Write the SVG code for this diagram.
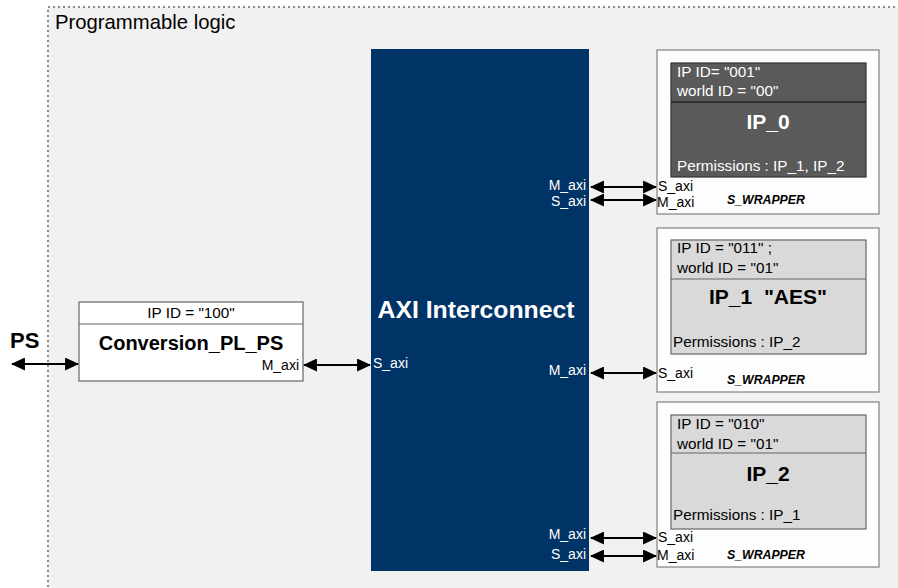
<svg xmlns="http://www.w3.org/2000/svg" width="898" height="588" viewBox="0 0 898 588">
<style>
text{font-family:"Liberation Sans",Arial,sans-serif;}
.port{font-size:14px;fill:#000;}
.portw{font-size:14px;fill:#fff;}
.wrap{fill:#fdfdfd;stroke:#808080;stroke-width:1.2;}
.wl{font-size:12.3px;font-weight:bold;font-style:italic;}
.lt{font-size:15.3px;}
.title{font-size:21px;font-weight:bold;text-anchor:middle;}
.ln{stroke:#000;stroke-width:2;fill:none;marker-start:url(#ah);marker-end:url(#ah);}
</style>
<defs>
<marker id="ah" viewBox="0 0 13 12" refX="12" refY="6" markerWidth="7" markerHeight="6.5" orient="auto-start-reverse" markerUnits="strokeWidth">
<path d="M0,0 L13,6 L0,12 z" fill="#000"/>
</marker>
</defs>
<rect width="898" height="588" fill="#fff"/>
<g id="pl">
<rect x="48" y="7" width="860" height="600" fill="#f1f1f1" stroke="#8a8a8a" stroke-width="2" stroke-dasharray="2 3"/>
<text x="55" y="29" font-size="20.3">Programmable logic</text>
</g>
<g id="axi">
<rect x="371" y="49" width="218" height="522" fill="#003366"/>
<text x="476" y="318" font-size="24.8" font-weight="bold" fill="#fff" text-anchor="middle">AXI Interconnect</text>
<text class="portw" x="586" y="190" text-anchor="end">M_axi</text>
<text class="portw" x="586" y="206" text-anchor="end">S_axi</text>
<text class="portw" x="586" y="375" text-anchor="end">M_axi</text>
<text class="portw" x="586" y="539" text-anchor="end">M_axi</text>
<text class="portw" x="586" y="559" text-anchor="end">S_axi</text>
<text class="portw" x="373" y="368">S_axi</text>
</g>
<g id="conv">
<rect x="79" y="302" width="224" height="79" fill="#fff" stroke="#666" stroke-width="1.2"/>
<line x1="79" y1="324" x2="303" y2="324" stroke="#666" stroke-width="1.2"/>
<text x="191" y="318" font-size="15.3" text-anchor="middle">IP ID = "100"</text>
<text x="191" y="350" font-size="20" font-weight="bold" text-anchor="middle">Conversion_PL_PS</text>
<text class="port" x="299" y="370" text-anchor="end">M_axi</text>
</g>
<g id="ps">
<text x="10" y="348" font-size="22" font-weight="bold">PS</text>
</g>
<g id="ip0">
<rect class="wrap" x="657" y="50" width="222" height="164"/>
<rect x="671" y="63" width="195" height="114" fill="#5a5a5a" stroke="#333" stroke-width="1.2"/>
<line x1="671" y1="102" x2="866" y2="102" stroke="#222" stroke-width="1.5"/>
<text class="lt" x="677" y="77" fill="#fff">IP ID= "001"</text>
<text class="lt" x="677" y="96" fill="#fff">world ID = "00"</text>
<text class="title" x="768" y="129" fill="#fff">IP_0</text>
<text class="lt" x="677" y="171" fill="#fff">Permissions : IP_1, IP_2</text>
<text class="port" x="658" y="191">S_axi</text>
<text class="port" x="657" y="207">M_axi</text>
<text class="wl" x="727" y="204">S_WRAPPER</text>
</g>
<g id="ip1">
<rect class="wrap" x="657" y="228" width="222" height="164"/>
<rect x="671" y="240" width="195" height="114" fill="#d9d9d9" stroke="#666" stroke-width="1.2"/>
<line x1="671" y1="279" x2="866" y2="279" stroke="#666" stroke-width="1.2"/>
<text class="lt" x="677" y="253">IP ID = "011" ;</text>
<text class="lt" x="677" y="273">world ID = "01"</text>
<text class="title" x="768" y="304" xml:space="preserve">IP_1  "AES"</text>
<text class="lt" x="673" y="347">Permissions : IP_2</text>
<text class="port" x="658" y="378">S_axi</text>
<text class="wl" x="727" y="384">S_WRAPPER</text>
</g>
<g id="ip2">
<rect class="wrap" x="657" y="402" width="222" height="165"/>
<rect x="671" y="415" width="195" height="114" fill="#d9d9d9" stroke="#666" stroke-width="1.2"/>
<line x1="671" y1="453" x2="866" y2="453" stroke="#666" stroke-width="1.2"/>
<text class="lt" x="677" y="429">IP ID = "010"</text>
<text class="lt" x="677" y="449">world ID = "01"</text>
<text class="title" x="768" y="481">IP_2</text>
<text class="lt" x="673" y="520">Permissions : IP_1</text>
<text class="port" x="658" y="542">S_axi</text>
<text class="port" x="657" y="560">M_axi</text>
<text class="wl" x="727" y="559">S_WRAPPER</text>
</g>
<g id="connectors">
<line class="ln" x1="12" y1="364" x2="78" y2="364"/>
<line class="ln" x1="304" y1="365" x2="370" y2="365"/>
<line class="ln" x1="591" y1="187" x2="656" y2="187"/>
<line class="ln" x1="591" y1="200" x2="656" y2="200"/>
<line class="ln" x1="591" y1="373" x2="656" y2="373"/>
<line class="ln" x1="591" y1="538" x2="656" y2="538"/>
<line class="ln" x1="591" y1="556" x2="656" y2="556"/>
</g>
</svg>
